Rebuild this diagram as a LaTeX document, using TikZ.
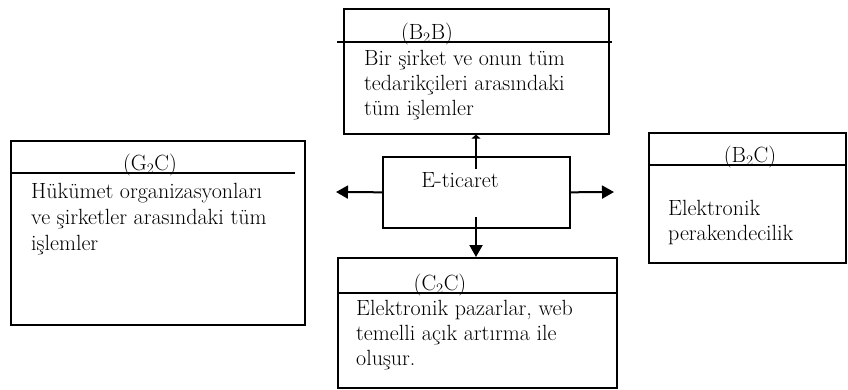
\documentclass[tikz,border=0pt]{standalone}
\usepackage{fontspec}
\usetikzlibrary{arrows.meta,calc}
\begin{document}
\begin{tikzpicture}[x=1pt,y=-1pt,
  box/.style={draw, line width=1.6pt, inner sep=0pt, anchor=north west},
  divline/.style={line width=1.6pt},
  txt/.style={anchor=base west, inner sep=0pt, font=\fontsize{22}{26}\selectfont},
  ttl/.style={anchor=base, inner sep=0pt, font=\fontsize{22}{26}\selectfont},
  arr/.style={line width=2pt, -{Triangle[length=12pt,width=13pt]}}]
\useasboundingbox (0,0) rectangle (848,389);
% boxes
\node[box, minimum width=265pt, minimum height=125pt] (b2b) at (343,8) {};
\node[box, minimum width=294pt, minimum height=184pt] (g2c) at (10,140) {};
\node[box, minimum width=187pt, minimum height=71pt] (et) at (382,156) {};
\node[box, minimum width=197pt, minimum height=130pt] (b2c) at (648,132) {};
\node[box, minimum width=279pt, minimum height=130pt] (c2c) at (337,257) {};
% dividers
\draw[divline] ($(b2b.north west)+(-6,34)$) -- ($(b2b.north east)+(2,34)$);
\draw[divline] ($(g2c.north west)+(0,33)$) -- ($(g2c.north east)+(-11,33)$);
\draw[divline] ($(b2c.north west)+(0,33)$) -- ($(b2c.north east)+(0,33)$);
\draw[divline] ($(c2c.north west)+(0,36)$) -- ($(c2c.north east)+(0,36)$);
% titles
\node[ttl] (t1) at (427,39) {(B$_2$B)};
\node[ttl] (t2) at (150,170) {(G$_2$C)};
\node[ttl] (t3) at (750,162) {(B$_2$C)};
\node[ttl] (t4) at (440,290) {(C$_2$C)};
% texts
\node[txt] (a1) at (364,65) {Bir şirket ve onun tüm};
\node[txt] (a2) at (364,90) {tedarikçileri arasındaki};
\node[txt] (a3) at (364,115) {tüm işlemler};
\node[txt] (g1) at (31,198) {Hükümet organizasyonları};
\node[txt] (g2) at (31,224) {ve şirketler arasındaki tüm};
\node[txt] (g3) at (31,250) {işlemler};
\node[txt] (c1) at (668,215) {Elektronik};
\node[txt] (c2) at (668,240) {perakendecilik};
\node[txt] (d1) at (356,315) {Elektronik pazarlar, web};
\node[txt] (d2) at (356,340) {temelli açık artırma ile};
\node[txt] (d3) at (356,365) {oluşur.};
\node[ttl] (etx) at (460,187) {E-ticaret};
% connectors
\coordinate (etup) at (476,169);
\coordinate (etdn) at (476,217);
\coordinate (lt) at (336,192);
\coordinate (rt) at (614,192);
\draw[arr] (et.west) -- (lt);
\draw[arr] (et.east) -- (rt);
\draw[line width=2pt, -{Triangle[length=4pt,width=9pt]}] (etup) -- (etup |- b2b.south);
\draw[arr] (etdn) -- (etdn |- c2c.north);
\end{tikzpicture}
\end{document}
